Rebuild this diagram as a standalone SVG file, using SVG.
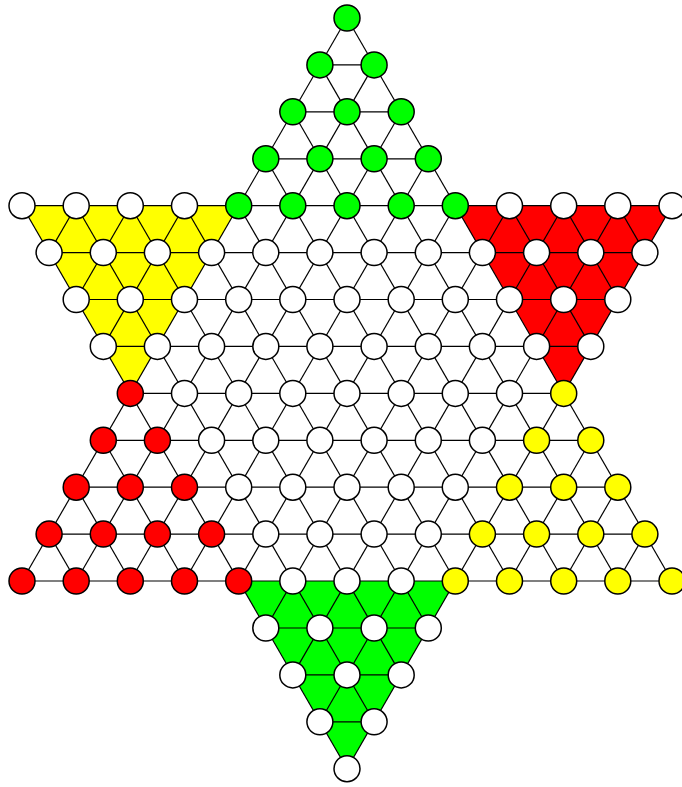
<svg xmlns="http://www.w3.org/2000/svg" width="682" height="787" viewBox="0 0 682 787">
<style>
.w{fill:#ffffff}.g{fill:#00ff00}.r{fill:#ff0000}.y{fill:#ffff00}
circle{stroke:#000;stroke-width:1.5}
#connectors line{stroke:#000;stroke-width:1.2}
#regions polygon{stroke:none}
</style>
<rect width="682" height="787" fill="#fff"/>
<g id="regions">
<polygon class="y" points="22,205.7 238.7,205.7 130.3,393.4"/>
<polygon class="r" points="455.3,205.7 672,205.7 563.7,393.4"/>
<polygon class="g" points="238.7,581 455.3,581 347,768.7"/>
</g>
<g id="connectors">
<line x1="319.9" y1="64.9" x2="374.1" y2="64.9"/>
<line x1="292.8" y1="111.8" x2="401.2" y2="111.8"/>
<line x1="265.8" y1="158.8" x2="428.3" y2="158.8"/>
<line x1="22" y1="205.7" x2="672" y2="205.7"/>
<line x1="49.1" y1="252.6" x2="644.9" y2="252.6"/>
<line x1="76.2" y1="299.5" x2="617.8" y2="299.5"/>
<line x1="103.3" y1="346.4" x2="590.8" y2="346.4"/>
<line x1="130.3" y1="393.4" x2="563.7" y2="393.4"/>
<line x1="103.3" y1="440.3" x2="590.8" y2="440.3"/>
<line x1="76.2" y1="487.2" x2="617.8" y2="487.2"/>
<line x1="49.1" y1="534.1" x2="644.9" y2="534.1"/>
<line x1="22" y1="581" x2="672" y2="581"/>
<line x1="265.8" y1="628" x2="428.3" y2="628"/>
<line x1="292.8" y1="674.9" x2="401.2" y2="674.9"/>
<line x1="319.9" y1="721.8" x2="374.1" y2="721.8"/>
<line x1="49.1" y1="534.1" x2="76.2" y2="581"/>
<line x1="76.2" y1="487.2" x2="130.3" y2="581"/>
<line x1="103.3" y1="440.3" x2="184.5" y2="581"/>
<line x1="22" y1="205.7" x2="347" y2="768.7"/>
<line x1="76.2" y1="205.7" x2="374.1" y2="721.8"/>
<line x1="130.3" y1="205.7" x2="401.2" y2="674.9"/>
<line x1="184.5" y1="205.7" x2="428.3" y2="628"/>
<line x1="238.7" y1="205.7" x2="455.3" y2="581"/>
<line x1="265.8" y1="158.8" x2="509.5" y2="581"/>
<line x1="292.8" y1="111.8" x2="563.7" y2="581"/>
<line x1="319.9" y1="64.9" x2="617.8" y2="581"/>
<line x1="347" y1="18" x2="672" y2="581"/>
<line x1="509.5" y1="205.7" x2="590.8" y2="346.4"/>
<line x1="563.7" y1="205.7" x2="617.8" y2="299.5"/>
<line x1="617.8" y1="205.7" x2="644.9" y2="252.6"/>
<line x1="644.9" y1="534.1" x2="617.8" y2="581"/>
<line x1="617.8" y1="487.2" x2="563.7" y2="581"/>
<line x1="590.8" y1="440.3" x2="509.5" y2="581"/>
<line x1="672" y1="205.7" x2="347" y2="768.7"/>
<line x1="617.8" y1="205.7" x2="319.9" y2="721.8"/>
<line x1="563.7" y1="205.7" x2="292.8" y2="674.9"/>
<line x1="509.5" y1="205.7" x2="265.8" y2="628"/>
<line x1="455.3" y1="205.7" x2="238.7" y2="581"/>
<line x1="428.3" y1="158.8" x2="184.5" y2="581"/>
<line x1="401.2" y1="111.8" x2="130.3" y2="581"/>
<line x1="374.1" y1="64.9" x2="76.2" y2="581"/>
<line x1="347" y1="18" x2="22" y2="581"/>
<line x1="184.5" y1="205.7" x2="103.3" y2="346.4"/>
<line x1="130.3" y1="205.7" x2="76.2" y2="299.5"/>
<line x1="76.2" y1="205.7" x2="49.1" y2="252.6"/>
</g>
<g id="holes">
<g id="h0_0"><circle class="g" cx="347" cy="18" r="13"/></g>
<g id="h1_0"><circle class="g" cx="319.9" cy="64.9" r="13"/></g>
<g id="h1_1"><circle class="g" cx="374.1" cy="64.9" r="13"/></g>
<g id="h2_0"><circle class="g" cx="292.8" cy="111.8" r="13"/></g>
<g id="h2_1"><circle class="g" cx="347" cy="111.8" r="13"/></g>
<g id="h2_2"><circle class="g" cx="401.2" cy="111.8" r="13"/></g>
<g id="h3_0"><circle class="g" cx="265.8" cy="158.8" r="13"/></g>
<g id="h3_1"><circle class="g" cx="319.9" cy="158.8" r="13"/></g>
<g id="h3_2"><circle class="g" cx="374.1" cy="158.8" r="13"/></g>
<g id="h3_3"><circle class="g" cx="428.3" cy="158.8" r="13"/></g>
<g id="h4_0"><circle class="w" cx="22" cy="205.7" r="13"/></g>
<g id="h4_1"><circle class="w" cx="76.2" cy="205.7" r="13"/></g>
<g id="h4_2"><circle class="w" cx="130.3" cy="205.7" r="13"/></g>
<g id="h4_3"><circle class="w" cx="184.5" cy="205.7" r="13"/></g>
<g id="h4_4"><circle class="g" cx="238.7" cy="205.7" r="13"/></g>
<g id="h4_5"><circle class="g" cx="292.8" cy="205.7" r="13"/></g>
<g id="h4_6"><circle class="g" cx="347" cy="205.7" r="13"/></g>
<g id="h4_7"><circle class="g" cx="401.2" cy="205.7" r="13"/></g>
<g id="h4_8"><circle class="g" cx="455.3" cy="205.7" r="13"/></g>
<g id="h4_9"><circle class="w" cx="509.5" cy="205.7" r="13"/></g>
<g id="h4_10"><circle class="w" cx="563.7" cy="205.7" r="13"/></g>
<g id="h4_11"><circle class="w" cx="617.8" cy="205.7" r="13"/></g>
<g id="h4_12"><circle class="w" cx="672" cy="205.7" r="13"/></g>
<g id="h5_0"><circle class="w" cx="49.1" cy="252.6" r="13"/></g>
<g id="h5_1"><circle class="w" cx="103.3" cy="252.6" r="13"/></g>
<g id="h5_2"><circle class="w" cx="157.4" cy="252.6" r="13"/></g>
<g id="h5_3"><circle class="w" cx="211.6" cy="252.6" r="13"/></g>
<g id="h5_4"><circle class="w" cx="265.8" cy="252.6" r="13"/></g>
<g id="h5_5"><circle class="w" cx="319.9" cy="252.6" r="13"/></g>
<g id="h5_6"><circle class="w" cx="374.1" cy="252.6" r="13"/></g>
<g id="h5_7"><circle class="w" cx="428.3" cy="252.6" r="13"/></g>
<g id="h5_8"><circle class="w" cx="482.4" cy="252.6" r="13"/></g>
<g id="h5_9"><circle class="w" cx="536.6" cy="252.6" r="13"/></g>
<g id="h5_10"><circle class="w" cx="590.8" cy="252.6" r="13"/></g>
<g id="h5_11"><circle class="w" cx="644.9" cy="252.6" r="13"/></g>
<g id="h6_0"><circle class="w" cx="76.2" cy="299.5" r="13"/></g>
<g id="h6_1"><circle class="w" cx="130.3" cy="299.5" r="13"/></g>
<g id="h6_2"><circle class="w" cx="184.5" cy="299.5" r="13"/></g>
<g id="h6_3"><circle class="w" cx="238.7" cy="299.5" r="13"/></g>
<g id="h6_4"><circle class="w" cx="292.8" cy="299.5" r="13"/></g>
<g id="h6_5"><circle class="w" cx="347" cy="299.5" r="13"/></g>
<g id="h6_6"><circle class="w" cx="401.2" cy="299.5" r="13"/></g>
<g id="h6_7"><circle class="w" cx="455.3" cy="299.5" r="13"/></g>
<g id="h6_8"><circle class="w" cx="509.5" cy="299.5" r="13"/></g>
<g id="h6_9"><circle class="w" cx="563.7" cy="299.5" r="13"/></g>
<g id="h6_10"><circle class="w" cx="617.8" cy="299.5" r="13"/></g>
<g id="h7_0"><circle class="w" cx="103.3" cy="346.4" r="13"/></g>
<g id="h7_1"><circle class="w" cx="157.4" cy="346.4" r="13"/></g>
<g id="h7_2"><circle class="w" cx="211.6" cy="346.4" r="13"/></g>
<g id="h7_3"><circle class="w" cx="265.8" cy="346.4" r="13"/></g>
<g id="h7_4"><circle class="w" cx="319.9" cy="346.4" r="13"/></g>
<g id="h7_5"><circle class="w" cx="374.1" cy="346.4" r="13"/></g>
<g id="h7_6"><circle class="w" cx="428.3" cy="346.4" r="13"/></g>
<g id="h7_7"><circle class="w" cx="482.4" cy="346.4" r="13"/></g>
<g id="h7_8"><circle class="w" cx="536.6" cy="346.4" r="13"/></g>
<g id="h7_9"><circle class="w" cx="590.8" cy="346.4" r="13"/></g>
<g id="h8_0"><circle class="r" cx="130.3" cy="393.4" r="13"/></g>
<g id="h8_1"><circle class="w" cx="184.5" cy="393.4" r="13"/></g>
<g id="h8_2"><circle class="w" cx="238.7" cy="393.4" r="13"/></g>
<g id="h8_3"><circle class="w" cx="292.8" cy="393.4" r="13"/></g>
<g id="h8_4"><circle class="w" cx="347" cy="393.4" r="13"/></g>
<g id="h8_5"><circle class="w" cx="401.2" cy="393.4" r="13"/></g>
<g id="h8_6"><circle class="w" cx="455.3" cy="393.4" r="13"/></g>
<g id="h8_7"><circle class="w" cx="509.5" cy="393.4" r="13"/></g>
<g id="h8_8"><circle class="y" cx="563.7" cy="393.4" r="13"/></g>
<g id="h9_0"><circle class="r" cx="103.3" cy="440.3" r="13"/></g>
<g id="h9_1"><circle class="r" cx="157.4" cy="440.3" r="13"/></g>
<g id="h9_2"><circle class="w" cx="211.6" cy="440.3" r="13"/></g>
<g id="h9_3"><circle class="w" cx="265.8" cy="440.3" r="13"/></g>
<g id="h9_4"><circle class="w" cx="319.9" cy="440.3" r="13"/></g>
<g id="h9_5"><circle class="w" cx="374.1" cy="440.3" r="13"/></g>
<g id="h9_6"><circle class="w" cx="428.3" cy="440.3" r="13"/></g>
<g id="h9_7"><circle class="w" cx="482.4" cy="440.3" r="13"/></g>
<g id="h9_8"><circle class="y" cx="536.6" cy="440.3" r="13"/></g>
<g id="h9_9"><circle class="y" cx="590.8" cy="440.3" r="13"/></g>
<g id="h10_0"><circle class="r" cx="76.2" cy="487.2" r="13"/></g>
<g id="h10_1"><circle class="r" cx="130.3" cy="487.2" r="13"/></g>
<g id="h10_2"><circle class="r" cx="184.5" cy="487.2" r="13"/></g>
<g id="h10_3"><circle class="w" cx="238.7" cy="487.2" r="13"/></g>
<g id="h10_4"><circle class="w" cx="292.8" cy="487.2" r="13"/></g>
<g id="h10_5"><circle class="w" cx="347" cy="487.2" r="13"/></g>
<g id="h10_6"><circle class="w" cx="401.2" cy="487.2" r="13"/></g>
<g id="h10_7"><circle class="w" cx="455.3" cy="487.2" r="13"/></g>
<g id="h10_8"><circle class="y" cx="509.5" cy="487.2" r="13"/></g>
<g id="h10_9"><circle class="y" cx="563.7" cy="487.2" r="13"/></g>
<g id="h10_10"><circle class="y" cx="617.8" cy="487.2" r="13"/></g>
<g id="h11_0"><circle class="r" cx="49.1" cy="534.1" r="13"/></g>
<g id="h11_1"><circle class="r" cx="103.3" cy="534.1" r="13"/></g>
<g id="h11_2"><circle class="r" cx="157.4" cy="534.1" r="13"/></g>
<g id="h11_3"><circle class="r" cx="211.6" cy="534.1" r="13"/></g>
<g id="h11_4"><circle class="w" cx="265.8" cy="534.1" r="13"/></g>
<g id="h11_5"><circle class="w" cx="319.9" cy="534.1" r="13"/></g>
<g id="h11_6"><circle class="w" cx="374.1" cy="534.1" r="13"/></g>
<g id="h11_7"><circle class="w" cx="428.3" cy="534.1" r="13"/></g>
<g id="h11_8"><circle class="y" cx="482.4" cy="534.1" r="13"/></g>
<g id="h11_9"><circle class="y" cx="536.6" cy="534.1" r="13"/></g>
<g id="h11_10"><circle class="y" cx="590.8" cy="534.1" r="13"/></g>
<g id="h11_11"><circle class="y" cx="644.9" cy="534.1" r="13"/></g>
<g id="h12_0"><circle class="r" cx="22" cy="581" r="13"/></g>
<g id="h12_1"><circle class="r" cx="76.2" cy="581" r="13"/></g>
<g id="h12_2"><circle class="r" cx="130.3" cy="581" r="13"/></g>
<g id="h12_3"><circle class="r" cx="184.5" cy="581" r="13"/></g>
<g id="h12_4"><circle class="r" cx="238.7" cy="581" r="13"/></g>
<g id="h12_5"><circle class="w" cx="292.8" cy="581" r="13"/></g>
<g id="h12_6"><circle class="w" cx="347" cy="581" r="13"/></g>
<g id="h12_7"><circle class="w" cx="401.2" cy="581" r="13"/></g>
<g id="h12_8"><circle class="y" cx="455.3" cy="581" r="13"/></g>
<g id="h12_9"><circle class="y" cx="509.5" cy="581" r="13"/></g>
<g id="h12_10"><circle class="y" cx="563.7" cy="581" r="13"/></g>
<g id="h12_11"><circle class="y" cx="617.8" cy="581" r="13"/></g>
<g id="h12_12"><circle class="y" cx="672" cy="581" r="13"/></g>
<g id="h13_0"><circle class="w" cx="265.8" cy="628" r="13"/></g>
<g id="h13_1"><circle class="w" cx="319.9" cy="628" r="13"/></g>
<g id="h13_2"><circle class="w" cx="374.1" cy="628" r="13"/></g>
<g id="h13_3"><circle class="w" cx="428.3" cy="628" r="13"/></g>
<g id="h14_0"><circle class="w" cx="292.8" cy="674.9" r="13"/></g>
<g id="h14_1"><circle class="w" cx="347" cy="674.9" r="13"/></g>
<g id="h14_2"><circle class="w" cx="401.2" cy="674.9" r="13"/></g>
<g id="h15_0"><circle class="w" cx="319.9" cy="721.8" r="13"/></g>
<g id="h15_1"><circle class="w" cx="374.1" cy="721.8" r="13"/></g>
<g id="h16_0"><circle class="w" cx="347" cy="768.7" r="13"/></g>
</g>
</svg>
